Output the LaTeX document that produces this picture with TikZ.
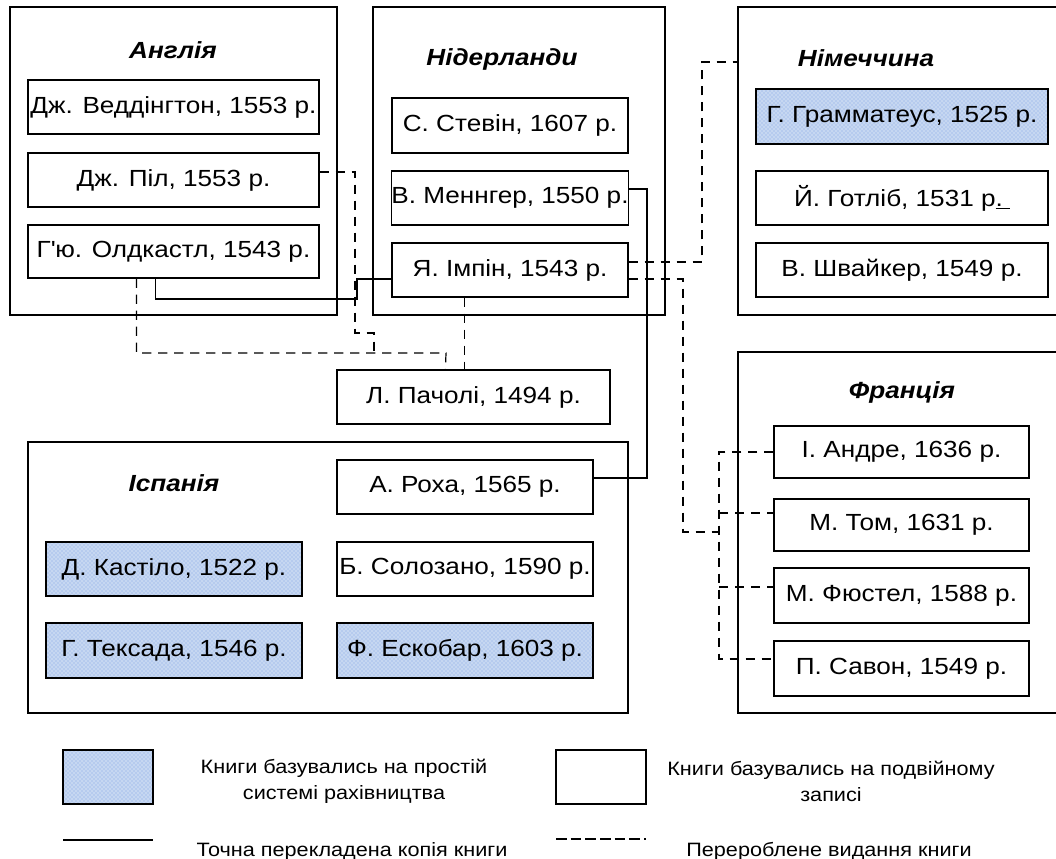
\documentclass[tikz,border=0pt]{standalone}
\usepackage{fontspec}
\setmainfont{Liberation Sans}[FakeStretch=1.12]
\usetikzlibrary{calc,patterns}
\definecolor{patblue}{RGB}{182,203,238}
\tikzset{
  grp/.style={draw, line width=0.9pt, inner sep=0pt},
  bk/.style={draw, line width=0.9pt, inner sep=0pt, font=\fontsize{17.5}{20}\selectfont},
  pat/.style={bk, preaction={fill=patblue}, pattern=crosshatch dots, pattern color=white},
  ttl/.style={font=\fontsize{17.5}{20}\selectfont\bfseries\itshape},
  sol/.style={line width=0.9pt},
  dsh/.style={line width=0.9pt, dash pattern=on 7pt off 5pt},
  leg/.style={font=\fontsize{14.5}{19.5}\selectfont, align=center}
}
\newcommand\mybox[7][bk]{\node[#1, minimum width={(#5-(#3))*0.75pt}, minimum height={(#6-(#4))*0.75pt}] (#2) at ({(#3+#5)/2},{(#4+#6)/2}) {#7};}
\begin{document}
\begin{tikzpicture}[x=0.75pt,y=-0.75pt]
\useasboundingbox (0,0) rectangle (1056,859);
\clip (0,0) rectangle (1056,859);
% groups
\mybox[grp]{eng}{10}{7}{337}{315}{}
\mybox[grp]{ned}{373}{7}{665}{315}{}
\mybox[grp]{ger}{738}{7}{1070}{315}{}
\mybox[grp]{fra}{738}{352}{1070}{713}{}
\mybox[grp]{spa}{28}{442}{628}{713}{}
% titles
\node[ttl] (tEng) at (173,50) {Англія};
\node[ttl] (tNed) at (502,59) {Нідерланди};
\node[ttl] (tGer) at (866,58) {Німеччина};
\node[ttl] (tFra) at (902,392) {Франція};
\node[ttl] (tSpa) at (174,483) {Іспанія};
% England
\mybox{wed}{28}{80}{319}{134}{Дж. Веддінгтон, 1553 р.}
\mybox{pil}{28}{153}{319}{207}{Дж. Піл, 1553 р.}
\mybox{old}{28}{225}{319}{278}{Г\textquotesingle ю. Олдкастл, 1543 р.}
% Netherlands
\mybox{ste}{392}{98}{628}{153}{С. Стевін, 1607 р.}
\mybox{men}{392}{171}{628}{225}{В. Меннгер, 1550 р.}
\mybox{imp}{392}{243}{628}{297}{Я. Імпін, 1543 р.}
% Germany
\mybox[pat]{gra}{756}{89}{1048}{144}{Г. Грамматеус, 1525 р.}
\mybox{got}{756}{171}{1048}{225}{Й. Готліб, 1531 р\underline{.\hspace{0.3em}}}
\mybox{shv}{756}{243}{1048}{297}{В. Швайкер, 1549 р.}
% Pacioli
\mybox{pach}{337}{370}{610}{424}{Л. Пачолі, 1494 р.}
% Spain
\mybox{roha}{337}{460}{593}{514}{А. Роха, 1565 р.}
\mybox{solo}{337}{542}{593}{596}{Б. Солозано, 1590 р.}
\mybox[pat]{esk}{337}{623}{593}{678}{Ф. Ескобар, 1603 р.}
\mybox[pat]{kas}{46}{542}{302}{596}{Д. Кастіло, 1522 р.}
\mybox[pat]{tek}{46}{623}{302}{678}{Г. Тексада, 1546 р.}
% France
\mybox{andr}{774}{426}{1029}{478}{І. Андре, 1636 р.}
\mybox{tom}{774}{499}{1029}{551}{М. Том, 1631 р.}
\mybox{fyu}{774}{568}{1029}{623}{М. Фюстел, 1588 р.}
\mybox{sav}{774}{641}{1029}{696}{П. Савон, 1549 р.}
% waypoints
\coordinate (j1) at (357,299);
\coordinate (j2) at (647,478);
\coordinate (j3) at (355,333);
\coordinate (j4) at (374,353);
\coordinate (j5) at (446,353);
\coordinate (j6) at (702,62);
\coordinate (j7) at (683,532);
\coordinate (t1) at (719,513);
\coordinate (t2) at (719,587);
\coordinate (t3) at (719,659);
% solid connectors
\draw[sol] ($(old.south west)+(128,0)$) |- (j1) |- ($(imp.west)+(0,9)$);
\draw[sol] ($(men.east)+(0,-9)$) -| (j2) -- ($(roha.east)+(0,-9)$);
% dashed connectors
\draw[dsh] ($(pil.east)+(0,-8)$) -| (j3) -| (j4);
\draw[dsh] ($(old.south west)+(109,0)$) |- (j5) -- ($(pach.north west)+(109,0)$);
\draw[dsh] ($(imp.south west)+(73,0)$) -- ($(pach.north west)+(128,0)$);
\draw[dsh] ($(imp.east)+(0,-8)$) -| (j6) -- (ger.west |- j6);
\draw[dsh] ($(imp.east)+(0,9)$) -| (j7) -- (t3 |- j7);
\draw[dsh] (andr.west) -| (t3) -- (sav.west |- t3);
\draw[dsh] (t1) -- (tom.west |- t1);
\draw[dsh] (t2) -- (fyu.west |- t2);
% legend
\mybox[pat]{lp}{63}{750}{153}{804}{}
\mybox{le}{556}{750}{646}{804}{}
\node[leg] (lt1) at (344,781) {Книги базувались на простій\\системі рахівництва};
\node[leg] (lt2) at (831,781) {Книги базувались на подвійному\\записі};
\coordinate (ls1) at (63,840);
\coordinate (ls2) at (153,840);
\coordinate (ld1) at (556,839);
\coordinate (ld2) at (646,839);
\draw[sol] (ls1) -- (ls2);
\draw[line width=0.9pt, dash pattern=on 8pt off 3pt] (ld1) -- (ld2);
\node[leg, anchor=base] (lt3) at (352,856) {Точна перекладена копія книги};
\node[leg, anchor=base] (lt4) at (829,856) {Перероблене видання книги};
\end{tikzpicture}
\end{document}
